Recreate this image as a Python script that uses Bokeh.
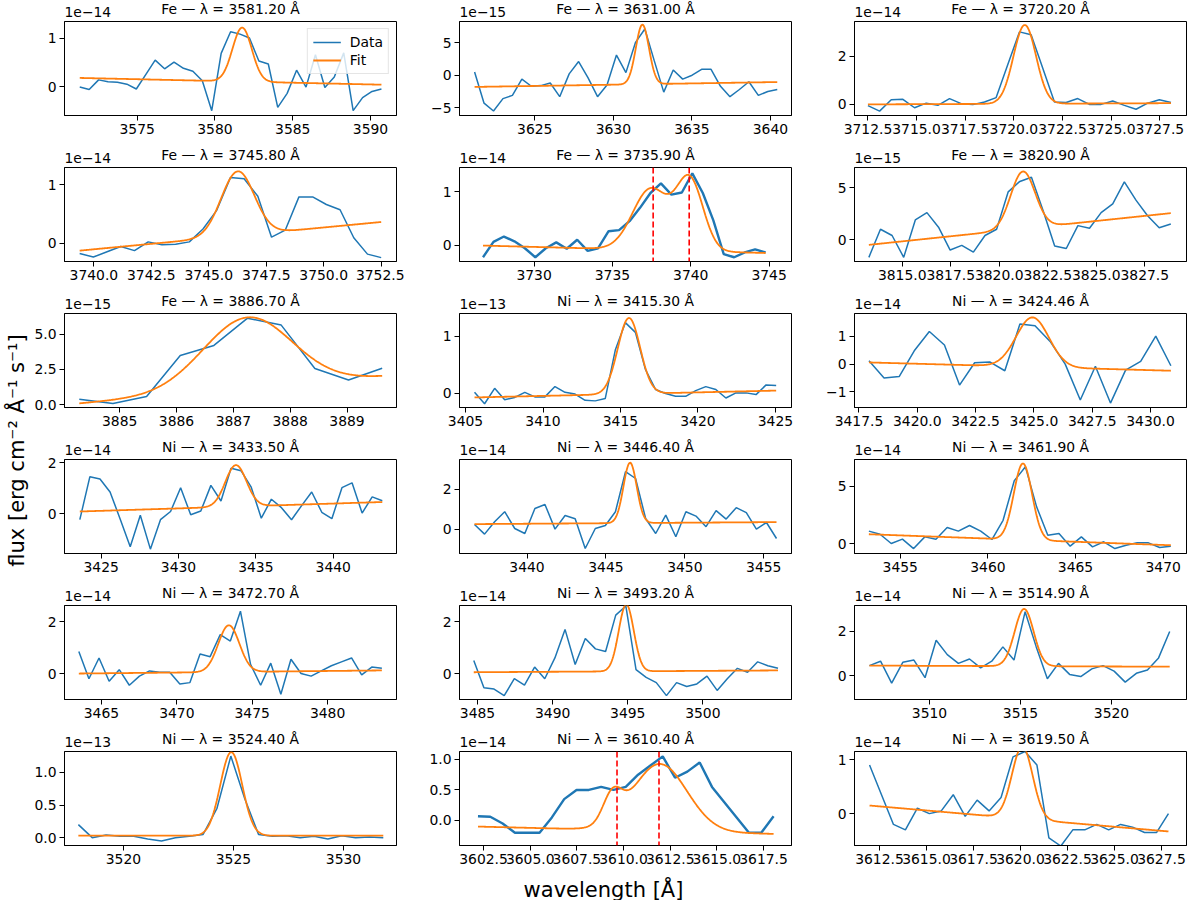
import numpy as np
from bokeh.plotting import figure
from bokeh.layouts import row, column
from bokeh.models import (Range1d, FixedTicker, Label, Span, Legend, LegendItem,
                          CustomJSTickFormatter)
from bokeh.core.properties import value
from bokeh.embed import file_html
from bokeh.resources import INLINE

BLUE = "#1f77b4"
ORANGE = "#ff7f0e"
FONT = "DejaVu Sans"
FS = "13.9px"

# ---------------- data ----------------
titles = ["Fe — λ = 3581.20 Å", "Fe — λ = 3631.00 Å", "Fe — λ = 3720.20 Å",
          "Fe — λ = 3745.80 Å", "Fe — λ = 3735.90 Å", "Fe — λ = 3820.90 Å",
          "Fe — λ = 3886.70 Å", "Ni — λ = 3415.30 Å", "Ni — λ = 3424.46 Å",
          "Ni — λ = 3433.50 Å", "Ni — λ = 3446.40 Å", "Ni — λ = 3461.90 Å",
          "Ni — λ = 3472.70 Å", "Ni — λ = 3493.20 Å", "Ni — λ = 3514.90 Å",
          "Ni — λ = 3524.40 Å", "Ni — λ = 3610.40 Å", "Ni — λ = 3619.50 Å"]
exponents = ["1e−14", "1e−15", "1e−14", "1e−14", "1e−14", "1e−15",
             "1e−15", "1e−13", "1e−14", "1e−14", "1e−14", "1e−14",
             "1e−14", "1e−14", "1e−14", "1e−13", "1e−14", "1e−14"]

# wavelength grid of each window: first sample and sampling step [Å]
wl_start = [3571.31, 3621.17, 3712.50, 3739.38, 3726.74, 3813.28,
            3884.29, 3405.58, 3417.93, 3423.62, 3436.67, 3453.21,
            3463.50, 3484.75, 3506.70, 3517.95, 3602.20, 3611.97]
wl_step = [0.606, 0.602, 0.599, 0.5965, 0.668, 0.5985,
           0.592, 0.649, 0.647, 0.6517, 0.638, 0.638,
           0.670, 0.675, 0.611, 0.630, 0.660, 0.636]

# observed flux (in units of the panel's exponent)
flux_01 = [-0.01, -0.06, 0.14, 0.10, 0.09, 0.05, -0.05, 0.25, 0.55, 0.37, 0.51, 0.38, 0.32, 0.12,
           -0.50, 0.69, 1.14, 1.09, 1.01, 0.53, 0.47, -0.43, -0.14, 0.34, -0.01, 0.66, -0.02, 0.20,
           0.70, -0.50, -0.23, -0.10, -0.05]
flux_02 = [0.5, -4.3, -5.5, -3.6, -3.1, -0.6, -1.7, -1.6, -1.2, -3.3, 0.2, 2.1, -0.4, -3.3, -1.5,
           3.1, 0.4, 5.0, 7.1, 2.2, -2.6, 0.8, -0.6, 0.0, 0.9, 0.9, -1.7, -3.3, -2.2, -1.0, -3.1,
           -2.5, -2.2]
flux_03 = [-0.05, -0.28, 0.19, 0.21, -0.14, 0.05, -0.04, 0.24, 0.03, -0.01, 0.10, 0.28, 1.65, 3.0,
           2.88, 1.5, 0.10, 0.08, 0.24, 0.0, 0.0, 0.14, -0.04, -0.20, 0.05, 0.19, 0.08]
flux_04 = [-0.18, -0.24, -0.15, -0.06, -0.13, 0.02, -0.03, -0.02, 0.02, 0.24, 0.56, 1.12, 1.10,
           0.80, 0.10, 0.22, 0.79, 0.79, 0.66, 0.57, 0.09, -0.19, -0.25]
flux_05 = [-0.23, 0.06, 0.16, 0.07, -0.06, -0.23, -0.06, 0.05, -0.07, 0.10, -0.11, -0.06, 0.26,
           0.28, 0.45, 0.70, 0.98, 1.16, 0.95, 0.99, 1.35, 0.98, 0.47, -0.17, -0.23, -0.14, -0.08,
           -0.14]
flux_06 = [-1.7, 1.0, 0.4, -1.7, 1.9, 2.6, 1.2, -1.0, -0.55, -1.2, 0.4, 1.0, 4.6, 5.6, 6.0, 2.8,
           -0.6, -0.85, 1.35, 1.1, 2.6, 3.45, 5.55, 3.8, 2.3, 1.15, 1.5]
flux_07 = [0.40, 0.10, 0.59, 3.49, 4.2, 6.13, 5.64, 2.57, 1.75, 2.59]
flux_08 = [0.02, -0.18, 0.09, -0.11, -0.07, 0.02, -0.06, -0.06, 0.12, 0.02, -0.01, -0.12, -0.13,
           -0.09, 0.76, 1.24, 1.07, 0.42, 0.07, 0.0, -0.05, -0.05, 0.05, 0.12, 0.07, -0.08, 0.01,
           0.01, -0.02, 0.15, 0.14]
flux_09 = [0.12, -0.5, -0.45, 0.48, 1.18, 0.69, -0.76, 0.05, 0.08, -0.24, 1.45, 1.39, 0.82, 0.0,
           -1.3, -0.08, -1.41, -0.22, 0.10, 1.01, -0.06]
flux_10 = [-0.23, 1.45, 1.36, 0.85, -0.2, -1.29, -0.06, -1.38, -0.23, 0.09, 1.02, -0.04, 0.11,
           1.11, 0.5, 1.78, 1.68, 1.04, -0.17, 0.57, 0.24, -0.23, 0.32, 0.85, 0.06, -0.19, 1.02,
           1.21, 0.03, 0.66, 0.51]
flux_11 = [0.23, -0.25, 0.37, 0.87, 0.03, -0.22, 1.03, 1.23, 0.0, 0.68, 0.52, -0.97, 0.03, 0.18,
           0.87, 2.87, 2.53, 0.53, -0.22, 0.70, -0.38, 0.87, 0.65, 0.12, 0.92, 0.50, 1.07, 0.82,
           0.0, 0.33, -0.47]
flux_12 = [1.08, 0.81, 0.0, 0.38, -0.44, 0.58, 0.38, 1.4, 1.08, 1.57, 1.08, 0.35, 2.03, 5.47,
           6.69, 3.2, 0.73, 0.87, -0.23, 0.58, -0.29, 0.15, -0.44, -0.15, 0.06, 0.06, -0.35, -0.23]
flux_13 = [0.85, -0.2, 0.6, -0.3, 0.15, -0.45, -0.1, 0.1, 0.05, 0.05, -0.4, -0.35, 0.75, 0.65,
           1.5, 1.25, 2.4, 0.35, -0.45, 0.4, -0.8, 0.55, 0.0, -0.1, 0.1, 0.3, 0.45, 0.6, -0.05,
           0.25, 0.2]
flux_14 = [0.5, -0.55, -0.6, -0.85, -0.2, -0.45, 0.25, -0.2, 0.6, 1.7, 0.35, 1.35, 0.95, 0.85,
           2.25, 2.6, 0.15, -0.15, -0.35, -0.85, -0.35, -0.5, -0.4, -0.1, -0.65, -0.2, 0.2, 0.05,
           0.45, 0.3, 0.2]
flux_15 = [0.45, 0.65, -0.35, 0.6, 0.7, -0.1, 1.6, 0.95, 0.55, 0.75, 0.35, 0.65, 1.3, 0.7, 2.9,
           1.3, -0.15, 0.55, 0.05, -0.05, 0.3, 0.45, 0.2, -0.3, 0.1, 0.25, 0.8, 2.0]
flux_16 = [0.2, 0.0, 0.04, 0.02, 0.02, -0.02, -0.05, 0.0, 0.02, 0.05, 0.45, 1.25, 0.6, 0.05,
           0.02, 0.03, 0.0, 0.02, -0.02, 0.03, 0.0, 0.01, 0.0]
flux_17 = [0.07, 0.06, -0.05, -0.2, -0.2, -0.2, 0.05, 0.35, 0.5, 0.5, 0.55, 0.5, 0.55, 0.75, 0.9,
           1.05, 0.7, 0.8, 0.95, 0.55, 0.3, 0.05, -0.2, -0.2, 0.07]
flux_18 = [0.9, 0.35, -0.2, -0.3, 0.1, 0.0, 0.05, 0.35, -0.05, 0.25, 0.05, 0.3, 1.05, 1.15, 0.9,
           -0.45, -0.6, -0.3, -0.3, -0.2, -0.3, -0.2, -0.25, -0.35, -0.35, 0.0]

# fitted model: linear continuum (value at first / last sample) + gaussian lines
cont_left = [0.18, -1.8, 0.0, -0.13, -0.01, -0.5, 0.1, -0.07, 0.06, 0.09, 0.25, 0.81,
             0.0, 0.05, 0.45, 0.03, -0.10, 0.15]
cont_right = [0.04, -1.05, 0.05, 0.36, -0.15, 2.55, 2.0, 0.05, -0.24, 0.46, 0.35, -0.15,
              0.12, 0.12, 0.40, 0.03, -0.22, -0.33]
# (amplitude, centre [Å], sigma [Å])
fit_lines = [[(1.12, 3581.75, 0.62)], [(9.15, 3631.85, 0.42)], [(3.26, 3720.56, 0.58)],
             [(1.10, 3746.26, 0.72)], [(1.15, 3737.45, 1.15), (1.31, 3739.95, 0.85)],
             [(5.50, 3821.22, 0.63)], [(5.03, 3887.25, 0.78)], [(1.33, 3415.55, 0.72)],
             [(1.79, 3424.94, 0.70)], [(1.62, 3433.71, 0.68)], [(3.02, 3446.53, 0.42)],
             [(6.66, 3462.00, 0.52)], [(1.80, 3473.45, 0.70)], [(2.58, 3494.90, 0.50)],
             [(2.60, 3515.20, 0.52)], [(1.28, 3524.90, 0.50)],
             [(0.45, 3609.40, 0.50), (1.10, 3611.95, 1.45)], [(1.34, 3620.10, 0.55)]]
blend_marks = {4: [3737.6, 3739.9], 16: [3609.65, 3611.9]}

# axis ticks
xticks = [[3575, 3580, 3585, 3590], [3625, 3630, 3635, 3640],
          [3712.5, 3715, 3717.5, 3720, 3722.5, 3725, 3727.5],
          [3740, 3742.5, 3745, 3747.5, 3750, 3752.5], [3730, 3735, 3740, 3745],
          [3815, 3817.5, 3820, 3822.5, 3825, 3827.5], [3885, 3886, 3887, 3888, 3889],
          [3405, 3410, 3415, 3420, 3425], [3417.5, 3420, 3422.5, 3425, 3427.5, 3430],
          [3425, 3430, 3435, 3440], [3440, 3445, 3450, 3455], [3455, 3460, 3465, 3470],
          [3465, 3470, 3475, 3480], [3485, 3490, 3495, 3500], [3510, 3515, 3520],
          [3520, 3525, 3530], [3602.5, 3605, 3607.5, 3610, 3612.5, 3615, 3617.5],
          [3612.5, 3615, 3617.5, 3620, 3622.5, 3625, 3627.5]]
x_dec = [0, 0, 1, 1, 0, 1, 0, 0, 1, 0, 0, 0, 0, 0, 0, 0, 1, 1]
yticks = [[0, 1], [-5, 0, 5], [0, 2], [0, 1], [0, 1], [0, 5], [0, 2.5, 5], [0, 1],
          [-1, 0, 1], [0, 2], [0, 2], [0, 5], [0, 2], [0, 2], [0, 2], [0, 0.5, 1.0],
          [0, 0.5, 1.0], [0, 1]]
y_dec = [0, 0, 0, 0, 0, 0, 1, 0, 0, 0, 0, 0, 0, 0, 0, 1, 1, 0]

# axis limits
x_lo = [3570.33, 3620.21, 3711.81, 3738.72, 3725.24, 3812.54, 3884.03, 3404.61, 3417.31,
        3422.63, 3435.72, 3452.39, 3462.55, 3483.80, 3505.88, 3517.32, 3601.21, 3611.17]
x_hi = [3591.67, 3641.34, 3728.87, 3753.17, 3746.43, 3829.65, 3889.87, 3426.04, 3431.54,
        3444.09, 3456.76, 3471.33, 3484.57, 3505.90, 3524.12, 3532.41, 3619.00, 3628.83]
y_lo = [-0.60, -6.19, -0.46, -0.316, -0.31, -2.10, -0.19, -0.246, -1.57, -1.55, -1.22, -0.87,
        -1.0, -1.0, -1.09, -0.12, -0.41, -0.59]
y_hi = [1.352, 8.25, 3.43, 1.293, 1.46, 6.94, 6.46, 1.40, 1.83, 2.12, 3.48, 7.33,
        2.62, 2.62, 3.18, 1.32, 1.13, 1.15]

fluxes = [flux_01, flux_02, flux_03, flux_04, flux_05, flux_06, flux_07, flux_08, flux_09,
          flux_10, flux_11, flux_12, flux_13, flux_14, flux_15, flux_16, flux_17, flux_18]
thick = {4, 16}


def fmt(d):
    return CustomJSTickFormatter(args=dict(d=d), code="""
        const s = Math.abs(tick).toFixed(d);
        return (tick < -1e-9 ? "\u2212" : "") + s;
    """)


def blank(w, h, xr=(0, 1), yr=(0, 1)):
    f = figure(width=w, height=h, output_backend="svg", toolbar_location=None,
               x_range=Range1d(*xr), y_range=Range1d(*yr), min_border=0,
               x_axis_type=None, y_axis_type=None)
    f.outline_line_color = None
    f.grid.visible = False
    return f


FRAME_W, FRAME_H = 332, 94
MB_TOP, MB_BOT = 3, 31
HEAD_H = 18
col_ml = [34, 55, 55]
col_mr = [8, 8, 13]
col_w = [col_ml[c] + FRAME_W + col_mr[c] for c in range(3)]
GRID_W = sum(col_w)

panels = []
for i in range(18):
    c = i % 3
    p = figure(width=col_w[c], height=MB_TOP + FRAME_H + MB_BOT,
               x_range=Range1d(x_lo[i], x_hi[i]), y_range=Range1d(y_lo[i], y_hi[i]),
               output_backend="svg", toolbar_location=None,
               min_border_left=col_ml[c], min_border_right=col_mr[c],
               min_border_top=MB_TOP, min_border_bottom=MB_BOT)
    p.grid.visible = False
    p.outline_line_color = "black"
    p.outline_line_alpha = 1.0
    p.outline_line_width = 1
    p.background_fill_color = "white"
    p.border_fill_color = "white"

    p.xaxis.ticker = FixedTicker(ticks=xticks[i])
    p.xaxis.formatter = fmt(x_dec[i])
    p.yaxis.ticker = FixedTicker(ticks=yticks[i])
    p.yaxis.formatter = fmt(y_dec[i])
    for ax in (p.xaxis, p.yaxis):
        ax.major_label_text_font = FONT
        ax.major_label_text_font_size = FS
        ax.major_label_text_color = "black"
        ax.major_tick_in = 0
        ax.major_tick_out = 5
        ax.major_tick_line_color = "black"
        ax.minor_tick_line_color = None
        ax.axis_line_color = "black"
        ax.major_label_standoff = 3

    xs = wl_start[i] + wl_step[i] * np.arange(len(fluxes[i]))
    ys = np.array(fluxes[i])
    xf = np.linspace(xs[0], xs[-1], 400)
    yf = cont_left[i] + (cont_right[i] - cont_left[i]) * (xf - xs[0]) / (xs[-1] - xs[0])
    for amp, mu, sig in fit_lines[i]:
        yf = yf + amp * np.exp(-0.5 * ((xf - mu) / sig) ** 2)

    rd = p.line(xs, ys, line_color=BLUE, line_width=2.4 if i in thick else 1.5)
    rf = p.line(xf, yf, line_color=ORANGE, line_width=1.8)

    for loc in blend_marks.get(i, []):
        p.add_layout(Span(location=loc, dimension="height", line_color="red",
                          line_width=1.6, line_dash="6 3"))

    if i == 0:
        leg = Legend(items=[LegendItem(label="Data", renderers=[rd]),
                            LegendItem(label="Fit", renderers=[rf])],
                     location="top_right")
        leg.label_text_font = FONT
        leg.label_text_font_size = FS
        leg.label_text_color = "black"
        leg.border_line_color = "#cccccc"
        leg.background_fill_alpha = 0.8
        leg.glyph_width = 28
        leg.glyph_height = 16
        leg.label_standoff = 9
        leg.spacing = 2
        leg.padding = 5
        leg.margin = 7
        leg.label_height = 16
        p.add_layout(leg)
    panels.append(p)

# header strips carrying the panel titles and the offset (exponent) texts
frame_left = [col_ml[0], col_w[0] + col_ml[1], col_w[0] + col_w[1] + col_ml[2]]
rows_out = []
for r in range(6):
    head = blank(GRID_W, HEAD_H, xr=(0, GRID_W), yr=(0, HEAD_H))
    idx = [r * 3 + c for c in range(3)]
    head.text(x=[frame_left[c] + FRAME_W / 2 for c in range(3)], y=[2, 2, 2],
              text=[titles[i] for i in idx], text_font=value(FONT), text_font_size=FS,
              text_color="black", text_align="center", text_baseline="bottom")
    head.text(x=[frame_left[c] for c in range(3)], y=[2, 2, 2],
              text=[exponents[i] for i in idx], text_font=value(FONT), text_font_size=FS,
              text_color="black", text_align="left", text_baseline="bottom")
    rows_out.append(head)
    rows_out.append(row(*panels[r * 3:(r + 1) * 3]))

GRID_H = 6 * (HEAD_H + MB_TOP + FRAME_H + MB_BOT)

ylab = blank(30, GRID_H)
ylab.add_layout(Label(x=16, y=GRID_H - 450, x_units="screen", y_units="screen",
                      text="flux [erg cm⁻² Å⁻¹ s⁻¹]", angle=np.pi / 2,
                      text_font=FONT, text_font_size="21px", text_color="black",
                      text_align="center", text_baseline="middle"))

xlab = blank(30 + GRID_W, 900 - GRID_H)
xlab.add_layout(Label(x=603, y=11, x_units="screen", y_units="screen",
                      text="wavelength [Å]", text_font=FONT, text_font_size="21px",
                      text_color="black", text_align="center", text_baseline="middle"))

layout = column(row(ylab, column(*rows_out)), xlab)
open("out.html", "w").write(file_html(layout, INLINE))
